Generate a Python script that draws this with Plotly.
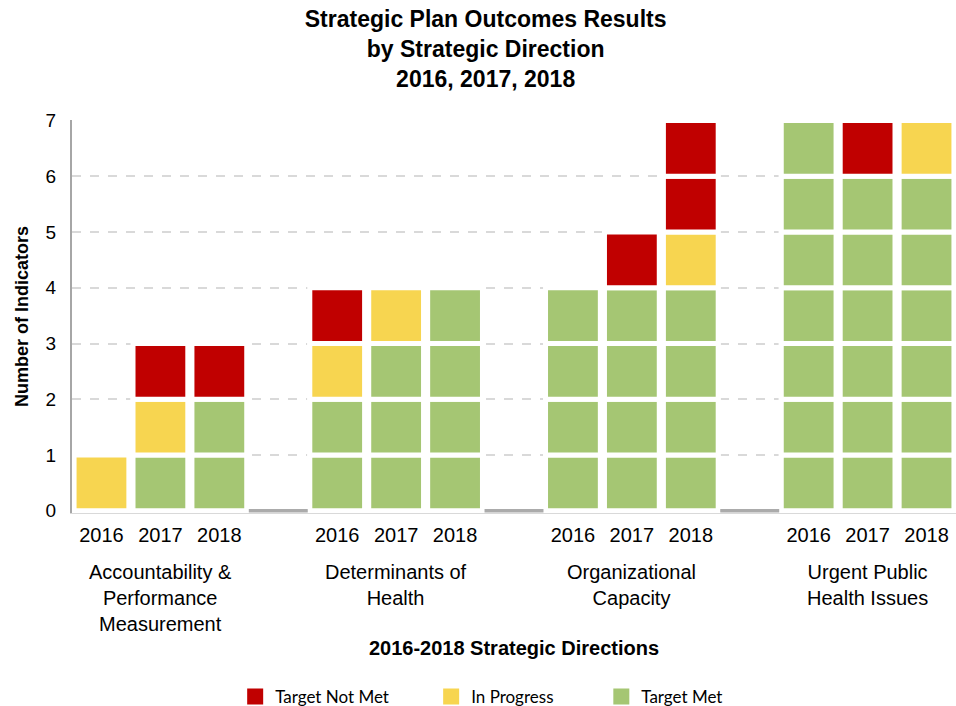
import plotly.graph_objects as go

groups = ["Accountability &<br>Performance<br>Measurement", "Determinants of<br>Health",
          "Organizational<br>Capacity", "Urgent Public<br>Health Issues"]
years = ["2016", "2017", "2018"]

# counts per bar, in order group x year
target_met = [0, 1, 2, 2, 3, 4, 4, 4, 4, 7, 6, 6]
in_progress = [1, 1, 0, 1, 1, 0, 0, 0, 1, 0, 0, 1]
not_met = [0, 1, 1, 1, 0, 0, 0, 1, 2, 0, 1, 0]

statuses = [("Target Met", target_met, "#A5C673"),
            ("In Progress", in_progress, "#F7D550"),
            ("Target Not Met", not_met, "#C00000")]

slot = len(years) + 1  # one empty slot between groups
bar_x = [(i // len(years)) * slot + i % len(years) for i in range(len(target_met))]
gap_x = [g * slot + len(years) for g in range(len(groups) - 1)]

font = "Liberation Sans, Arial, sans-serif"
fig = go.Figure()

# every indicator is its own block, stacked Met -> In Progress -> Not Met
height = [0] * len(bar_x)
for name, counts, color in statuses:
    xs, bases = [], []
    for i, c in enumerate(counts):
        for k in range(c):
            xs.append(bar_x[i])
            bases.append(height[i] + k)
        height[i] += c
    fig.add_trace(go.Bar(x=xs, y=[1] * len(xs), base=bases, name=name, width=0.93,
                         marker=dict(color=color, line=dict(color="white", width=5)),
                         showlegend=False, hoverinfo="skip"))

# grey separators on the baseline between groups
fig.add_trace(go.Bar(x=gap_x, y=[0.06] * len(gap_x), base=[-0.03] * len(gap_x), width=1.0,
                     marker=dict(color="#ABABAB", line_width=0), showlegend=False, hoverinfo="skip"))

# legend entries, each in its own legend box so they can be spaced like the original
legend_pos = {"Target Not Met": ("legend", 0.246),
              "In Progress": ("legend2", 0.451),
              "Target Met": ("legend3", 0.629)}
for name, counts, color in reversed(statuses):
    fig.add_trace(go.Scatter(x=[None], y=[None], mode="markers", name=name,
                             legend=legend_pos[name][0],
                             marker=dict(symbol="square", size=22, color=color)))

tickvals = bar_x
ticktext = [years[i % len(years)] for i in range(len(bar_x))]

for g, label in enumerate(groups):
    fig.add_annotation(text=label, x=g * slot + 1, xref="x", y=0, yref="paper",
                       yanchor="top", yshift=-46, showarrow=False,
                       font=dict(family=font, size=20, color="black"))

legend_style = dict(orientation="h", xanchor="left", xref="container",
                    y=0.0127, yanchor="middle", yref="container", itemsizing="trace",
                    font=dict(family="Lato, sans-serif", size=17, color="black"))

fig.update_layout(
    width=956, height=706,
    margin=dict(l=72, r=0, t=120, b=193),
    plot_bgcolor="white", paper_bgcolor="white",
    barmode="overlay",
    title=dict(text="Strategic Plan Outcomes Results<br>by Strategic Direction<br>2016, 2017, 2018",
               x=0.508, xanchor="center", y=0.962, yanchor="top",
               font=dict(family=font, size=23, color="black", weight="bold")),
    xaxis=dict(range=[-0.5, len(groups) * slot - 1.5], tickvals=tickvals, ticktext=ticktext,
               showgrid=False, zeroline=False, showline=True, linecolor="#D9D9D9", linewidth=1,
               ticks="", ticklabelstandoff=4,
               tickfont=dict(family=font, size=20, color="black"),
               title=dict(text="2016-2018 Strategic Directions", standoff=95,
                          font=dict(family=font, size=20, color="black", weight="bold"))),
    yaxis=dict(range=[-0.04, 7.01], dtick=1, showgrid=True, gridcolor="#D9D9D9", griddash="dash",
               gridwidth=1.5, zeroline=False, showline=True, linecolor="#A6A6A6", linewidth=2,
               ticks="", ticklabelstandoff=10,
               tickfont=dict(family=font, size=19, color="black"),
               title=dict(text="Number of Indicators", standoff=12,
                          font=dict(family=font, size=18, color="black", weight="bold"))),
    legend=dict(x=legend_pos["Target Not Met"][1], **legend_style),
    legend2=dict(x=legend_pos["In Progress"][1], **legend_style),
    legend3=dict(x=legend_pos["Target Met"][1], **legend_style),
)

fig.write_html("out.html", config={"displayModeBar": False},
               post_script="document.body.style.margin='0';")
